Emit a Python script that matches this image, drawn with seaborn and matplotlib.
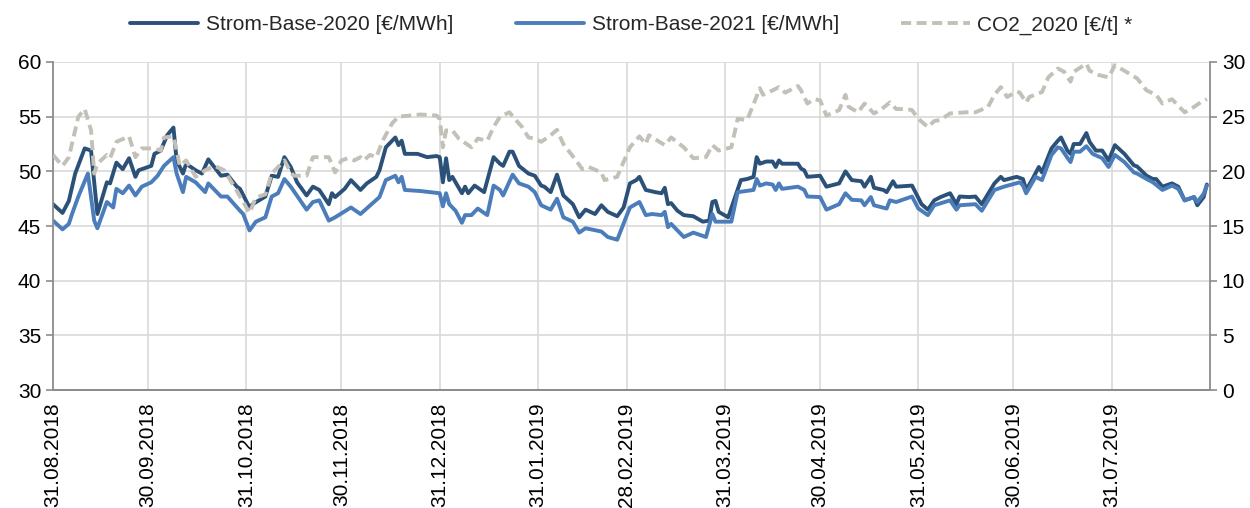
import pandas as pd
import seaborn as sns
import matplotlib.pyplot as plt

# x values are days after 31.08.2018
start = pd.Timestamp("2018-08-31")

days_2020 = [0, 3, 5, 7, 10, 12, 14, 17, 18, 20,
             22, 24, 26, 27, 31, 32, 34, 36, 38, 39,
             41, 42, 45, 47, 49, 53, 55, 58, 59, 62,
             63, 67, 69, 71, 73, 75, 77, 80, 82, 84,
             87, 88, 89, 92, 94, 97, 99, 102, 103, 105,
             108, 109, 110, 111, 115, 118, 121, 122, 123, 124,
             125, 126, 129, 130, 131, 133, 136, 139, 141, 142,
             144, 145, 147, 150, 152, 154, 155, 157, 159, 161,
             164, 166, 168, 171, 173, 175, 178, 180, 182, 184,
             185, 187, 190, 192, 193, 194, 195, 197, 199, 202,
             205, 207, 208, 209, 210, 213, 215, 217, 219, 221,
             222, 223, 225, 227, 228, 229, 230, 235, 236, 237,
             238, 242, 244, 248, 250, 252, 255, 256, 258, 259,
             262, 263, 265, 266, 271, 274, 276, 278, 280, 283,
             285, 286, 289, 291, 293, 297, 299, 300, 304, 306,
             307, 309, 311, 312, 315, 317, 318, 320, 321, 322,
             324, 326, 327, 329, 331, 333, 335, 338, 341, 342,
             345, 347, 348, 350, 353, 355, 357, 360, 361, 363,
             364]
base_2020 = [47.0, 46.2, 47.3, 49.8, 52.1, 51.9, 46.1, 49.0, 48.9, 50.8,
             50.2, 51.2, 49.5, 50.1, 50.5, 51.6, 51.9, 53.3, 54.0, 51.0,
             49.8, 50.7, 50.1, 49.8, 51.1, 49.6, 49.7, 48.6, 48.4, 46.7,
             47.0, 47.7, 49.6, 49.5, 51.3, 50.4, 49.0, 47.8, 48.6, 48.3,
             47.0, 48.0, 47.65, 48.4, 49.2, 48.3, 48.9, 49.5, 50.1, 52.2,
             53.1, 52.4, 52.8, 51.6, 51.6, 51.3, 51.4, 51.3, 49.0, 51.2,
             49.2, 49.5, 48.0, 48.6, 48.0, 48.7, 48.1, 51.3, 50.7, 50.5,
             51.8, 51.8, 50.5, 49.8, 49.6, 48.7, 48.6, 48.1, 49.7, 47.8,
             47.0, 45.8, 46.5, 46.1, 46.9, 46.3, 45.9, 46.7, 48.9, 49.2,
             49.5, 48.3, 48.1, 48.0, 48.5, 47.0, 47.1, 46.4, 46.0, 45.9,
             45.4, 45.5, 47.2, 47.3, 46.3, 45.8, 47.5, 49.2, 49.3, 49.5,
             51.3, 50.7, 50.9, 50.9, 50.4, 51.0, 50.7, 50.7, 50.25, 50.1,
             49.5, 49.6, 48.6, 48.9, 50.0, 49.2, 49.1, 48.6, 49.5, 48.5,
             48.3, 48.1, 49.1, 48.6, 48.7, 47.0, 46.5, 47.35, 47.65, 48.0,
             47.0, 47.7, 47.65, 47.7, 47.0, 48.9, 49.5, 49.2, 49.5, 49.3,
             48.3, 49.3, 50.4, 49.9, 52.1, 52.8, 53.1, 51.9, 51.6, 52.5,
             52.5, 53.5, 52.7, 51.9, 51.9, 51.0, 52.4, 51.6, 50.55, 50.45,
             49.6, 49.3, 49.3, 48.6, 48.9, 48.6, 47.35, 47.65, 46.9, 47.65,
             48.8]

days_2021 = [0, 3, 5, 6, 8, 11, 13, 14, 17, 19,
             20, 22, 24, 26, 28, 31, 33, 35, 38, 39,
             41, 42, 45, 48, 49, 53, 55, 59, 60, 62,
             64, 67, 69, 71, 73, 75, 80, 82, 84, 87,
             89, 94, 97, 103, 105, 108, 109, 110, 111, 116,
             122, 123, 124, 125, 127, 129, 130, 132, 134, 137,
             139, 141, 142, 145, 147, 150, 152, 154, 157, 159,
             161, 164, 166, 168, 173, 175, 178, 182, 185, 187,
             189, 192, 193, 194, 195, 199, 202, 206, 208, 209,
             214, 216, 221, 222, 223, 225, 227, 228, 229, 230,
             235, 237, 238, 242, 244, 248, 250, 252, 255, 256,
             258, 259, 263, 264, 266, 271, 273, 276, 278, 283,
             285, 286, 291, 293, 297, 300, 305, 306, 307, 310,
             312, 315, 317, 318, 320, 321, 322, 324, 326, 328,
             331, 333, 335, 338, 341, 342, 345, 347, 350, 353,
             355, 357, 360, 361, 363, 364]
base_2021 = [45.5, 44.7, 45.2, 46.1, 47.7, 49.8, 45.5, 44.8, 47.2, 46.7,
             48.4, 48.0, 48.7, 47.8, 48.6, 49.0, 49.6, 50.5, 51.3, 49.8,
             48.1, 49.5, 49.0, 48.1, 48.9, 47.7, 47.7, 46.4, 46.1, 44.6,
             45.4, 45.8, 47.7, 48.0, 49.3, 48.6, 46.5, 47.2, 47.35, 45.5,
             45.8, 46.7, 46.1, 47.65, 49.2, 49.6, 49.0, 49.5, 48.3, 48.2,
             48.0, 46.8, 48.0, 47.0, 46.4, 45.3, 46.0, 46.0, 46.6, 46.0,
             48.7, 48.3, 47.8, 49.7, 48.9, 48.6, 48.1, 46.9, 46.5, 47.5,
             45.8, 45.4, 44.4, 44.8, 44.5, 44.0, 43.75, 46.7, 47.2, 46.0,
             46.1, 46.0, 46.3, 44.9, 45.2, 44.0, 44.4, 44.0, 46.1, 45.4,
             45.4, 48.1, 48.3, 49.3, 48.7, 48.9, 48.8, 48.3, 48.9, 48.4,
             48.6, 48.3, 47.7, 47.65, 46.5, 47.0, 48.0, 47.4, 47.35, 46.9,
             47.65, 46.9, 46.6, 47.35, 47.2, 47.7, 46.6, 46.0, 46.9, 47.35,
             46.5, 46.9, 47.0, 46.4, 48.3, 48.6, 49.0, 48.7, 48.0, 49.5,
             49.2, 51.5, 52.2, 52.1, 51.25, 50.85, 51.8, 51.8, 52.3, 51.6,
             51.2, 50.4, 51.5, 50.85, 49.9, 49.8, 49.3, 49.0, 48.3, 48.7,
             48.4, 47.35, 47.65, 47.2, 47.95, 48.7]

days_co2 = [0, 3, 5, 7, 8, 10, 12, 13, 14, 17,
            18, 20, 24, 26, 28, 32, 34, 35, 38, 39,
            40, 42, 45, 48, 51, 54, 57, 60, 62, 64,
            67, 69, 73, 75, 76, 80, 82, 87, 89, 91,
            93, 95, 97, 98, 100, 102, 104, 107, 109, 116,
            121, 122, 123, 124, 126, 128, 132, 134, 137, 139,
            141, 144, 146, 148, 150, 152, 154, 157, 159, 161,
            165, 167, 169, 173, 174, 178, 179, 182, 185, 187,
            188, 193, 195, 199, 202, 206, 208, 210, 214, 216,
            219, 223, 224, 227, 229, 231, 235, 236, 238, 240,
            242, 244, 248, 250, 251, 254, 256, 259, 261, 264,
            266, 269, 271, 273, 276, 278, 280, 283, 288, 291,
            295, 297, 299, 301, 304, 305, 307, 308, 312, 314,
            317, 319, 321, 322, 326, 327, 330, 333, 335, 338,
            342, 345, 348, 350, 353, 357, 360, 362, 364]
co2_2020 = [21.5, 20.5, 21.3, 23.75, 25.0, 25.7, 23.75, 19.8, 20.7, 21.5,
            21.2, 22.7, 23.2, 21.3, 22.1, 22.1, 21.9, 23.1, 23.2, 21.9,
            20.5, 21.0, 19.5, 20.1, 20.5, 20.1, 18.7, 17.2, 16.2, 17.6,
            17.9, 19.8, 21.0, 19.9, 19.6, 19.6, 21.3, 21.3, 19.9, 21.0,
            21.2, 21.0, 21.3, 21.0, 21.5, 21.3, 22.8, 24.4, 25.0, 25.2,
            25.1, 24.8, 22.2, 23.75, 23.75, 23.0, 22.2, 23.0, 22.8, 24.05,
            25.0, 25.4, 24.7, 24.05, 23.1, 23.0, 22.7, 23.3, 23.8, 22.5,
            21.0, 20.2, 20.4, 19.9, 19.2, 19.5, 20.2, 22.2, 23.2, 22.5,
            23.3, 22.4, 23.1, 22.2, 21.2, 21.3, 22.4, 21.9, 22.2, 24.8,
            24.7, 27.6, 27.0, 27.4, 27.7, 27.2, 27.8, 27.4, 26.2, 26.6,
            26.5, 25.1, 25.6, 27.0, 25.9, 25.4, 26.2, 25.3, 25.6, 26.3,
            25.7, 25.7, 25.6, 24.8, 24.05, 24.6, 24.7, 25.3, 25.4, 25.4,
            25.9, 27.0, 27.7, 26.8, 27.3, 27.2, 26.3, 26.8, 27.25, 28.6,
            29.4, 29.1, 28.2, 29.1, 29.85, 29.2, 28.8, 28.6, 29.7, 29.2,
            28.5, 27.4, 27.0, 26.2, 26.6, 25.4, 25.9, 26.3, 26.6]

tick_labels = ["31.08.2018", "30.09.2018", "31.10.2018", "30.11.2018",
               "31.12.2018", "31.01.2019", "28.02.2019", "31.03.2019",
               "30.04.2019", "31.05.2019", "30.06.2019", "31.07.2019"]


def to_frame(days, values):
    return pd.DataFrame({"date": start + pd.to_timedelta(days, unit="D"),
                         "value": values})


sns.set_style("white")
plt.rcParams["font.family"] = ["Liberation Sans", "DejaVu Sans"]
plt.rcParams["font.size"] = 15

dark_blue = "#2C5179"
light_blue = "#4A7DBA"
co2_grey = "#C3C0B8"
grid_grey = "#D9D9D9"
axis_grey = "#8C8C8C"

fig = plt.figure(figsize=(12.5, 5.08), dpi=100)
ax = fig.add_axes([0.0424, 0.232, 0.9256, 0.646])
ax2 = ax.twinx()

sns.lineplot(data=to_frame(days_2020, base_2020), x="date", y="value", ax=ax,
             color=dark_blue, linewidth=2.8, label="Strom-Base-2020 [€/MWh]")
sns.lineplot(data=to_frame(days_2021, base_2021), x="date", y="value", ax=ax,
             color=light_blue, linewidth=2.8, label="Strom-Base-2021 [€/MWh]")
sns.lineplot(data=to_frame(days_co2, co2_2020), x="date", y="value", ax=ax2,
             color=co2_grey, linewidth=2.8, linestyle=(0, (2.6, 1.4)),
             label="CO2_2020 [€/t] *")

for a in (ax, ax2):
    if a.get_legend() is not None:
        a.get_legend().remove()
    a.set_xlabel("")
    a.set_ylabel("")

ax.set_ylim(30, 60)
ax.set_yticks(range(30, 61, 5))
ax2.set_ylim(0, 30)
ax2.set_yticks(range(0, 31, 5))

tick_dates = pd.to_datetime(tick_labels, format="%d.%m.%Y")
ax.set_xlim(start, pd.Timestamp("2019-08-31"))
ax.set_xticks(tick_dates)
ax.set_xticklabels(tick_labels, rotation=90, va="top")

ax.grid(True, color=grid_grey, linewidth=1.2)
ax.set_axisbelow(True)

for a in (ax, ax2):
    a.spines["top"].set_visible(False)
    for side in ("left", "right", "bottom"):
        a.spines[side].set_color(axis_grey)
        a.spines[side].set_linewidth(1.3)
    a.tick_params(axis="both", which="major", length=5, width=1.2,
                  color=axis_grey, labelcolor="black", labelsize=15)
ax.spines["right"].set_visible(False)
ax2.spines["left"].set_visible(False)
ax.tick_params(axis="x", pad=4)

handles = ax.get_lines()[:2] + ax2.get_lines()[:1]
labels = [h.get_label() for h in handles]
fig.legend(handles, labels, loc="center", bbox_to_anchor=(0.505, 0.951),
           ncol=3, frameon=False, fontsize=15, handlelength=3.3,
           handletextpad=0.35, columnspacing=3.0)

fig.savefig("out.png", dpi=100)
